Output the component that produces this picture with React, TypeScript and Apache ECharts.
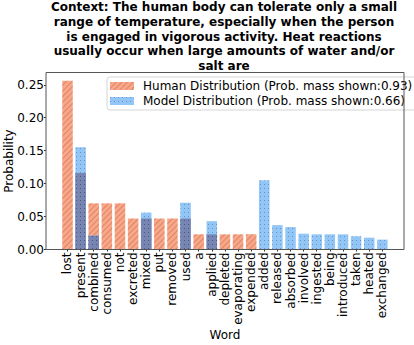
import React, { useEffect, useRef } from "react";
import * as echarts from "echarts";

const titleLines = [
  "Context: The human body can tolerate only a small",
  "range of temperature, especially when the person",
  "is engaged in vigorous activity. Heat reactions",
  "usually occur when large amounts of water and/or",
  "salt are",
];

const words = [
  "lost", "present", "combined", "consumed", "not", "excreted", "mixed", "put",
  "removed", "used", "a", "applied", "depleted", "evaporating", "expended",
  "added", "released", "absorbed", "involved", "ingested", "being",
  "introduced", "taken", "heated", "exchanged",
];

const humanProb = [
  0.256, 0.116, 0.070, 0.070, 0.070, 0.047, 0.047, 0.047, 0.047, 0.047,
  0.023, 0.023, 0.023, 0.023, 0.023, 0, 0, 0, 0, 0, 0, 0, 0, 0, 0,
];

const modelProb = [
  0, 0.155, 0.021, 0, 0, 0, 0.056, 0, 0, 0.071, 0, 0.043, 0, 0, 0,
  0.105, 0.037, 0.034, 0.024, 0.023, 0.023, 0.023, 0.020, 0.018, 0.015,
];

const yTicks = [0, 0.05, 0.1, 0.15, 0.2, 0.25];

const humanName = "Human Distribution (Prob. mass shown:0.93)";
const modelName = "Model Distribution (Prob. mass shown:0.66)";
const xName = "Word";
const yName = "Probability";

const FONT = "DejaVu Sans";

export default function App() {
  const ref = useRef<HTMLDivElement>(null);
  useEffect(() => {
    if (!ref.current) return;
    const chart = echarts.init(ref.current, null, { renderer: "svg" });
    const overlap = humanProb.map((h, i) => Math.min(h, modelProb[i]));
    const nz = (arr: number[]) => arr.map((v) => (v > 0 ? v : "-"));
    const hatch = {
      symbol: "rect",
      symbolSize: 1,
      dashArrayX: [1, 0],
      dashArrayY: [1, 2.5],
      rotation: -Math.PI / 4,
      color: "rgba(214,92,55,0.5)",
    };
    const dots = (c: string) => ({
      symbol: "rect",
      symbolSize: 1,
      dashArrayX: [1, 3],
      dashArrayY: [1, 3],
      rotation: 0,
      color: c,
    });
    chart.setOption({
      animation: false,
      textStyle: { fontFamily: FONT },
      grid: { left: 60.94, right: 25.1, top: 72.5, bottom: 95.5, containLabel: false },
      legend: {
        orient: "vertical",
        left: 107,
        top: 77,
        padding: [3, 4, 3, 3],
        itemGap: 3,
        itemWidth: 24,
        itemHeight: 8,
        icon: "rect",
        data: [humanName, modelName],
        textStyle: { fontSize: 12, fontFamily: FONT, color: "#000", padding: [0, 0, 0, 4] },
        borderColor: "#d5d5d5",
        borderWidth: 1,
        borderRadius: 3,
        backgroundColor: "rgba(255,255,255,0.85)",
      },
      xAxis: {
        type: "category",
        data: words,
        axisLine: { show: false },
        axisTick: { show: true, alignWithLabel: true, length: 2, lineStyle: { color: "#333" } },
        axisLabel: {
          rotate: 90,
          interval: 0,
          fontSize: 12,
          fontFamily: FONT,
          color: "#000",
          margin: 3,
        },
      },
      yAxis: {
        type: "value",
        min: 0,
        max: 0.2686,
        offset: 15,
        axisLine: { show: false },
        splitLine: { show: false },
        axisTick: { show: true, length: 2, lineStyle: { color: "#333" }, customValues: yTicks },
        axisLabel: {
          fontSize: 12,
          fontFamily: FONT,
          color: "#000",
          margin: 2,
          customValues: yTicks,
          formatter: (v: number) => v.toFixed(2),
        },
      },
      series: [
        {
          name: humanName,
          type: "bar",
          data: nz(humanProb),
          barWidth: "80%",
          barGap: "-100%",
          itemStyle: { color: "#f6a88b", decal: hatch },
        },
        {
          name: modelName,
          type: "bar",
          data: nz(modelProb),
          barWidth: "80%",
          barGap: "-100%",
          itemStyle: { color: "#92c6f6", decal: dots("rgba(70,90,140,0.5)") },
        },
        {
          name: "overlap",
          type: "bar",
          data: nz(overlap),
          barWidth: "80%",
          barGap: "-100%",
          itemStyle: { color: "#7785b3", decal: dots("rgba(40,40,80,0.5)") },
        },
      ],
      graphic: [
        {
          type: "rect",
          z: 100,
          silent: true,
          shape: { x: 46, y: 72.5, width: 358, height: 177 },
          style: { fill: "none", stroke: "#555", lineWidth: 1 },
        },
        {
          type: "text",
          z: 110,
          x: 224,
          y: 0,
          style: {
            text: titleLines.join("\n"),
            font: `bold 12px "${FONT}"`,
            textAlign: "center",
            textVerticalAlign: "top",
            align: "center",
            verticalAlign: "top",
            lineHeight: 14.6,
            fill: "#000",
          },
        },
        {
          type: "text",
          x: 8.5,
          y: 161,
          rotation: Math.PI / 2,
          style: {
            text: yName,
            font: `12px "${FONT}"`,
            textAlign: "center",
            textVerticalAlign: "middle",
            align: "center",
            verticalAlign: "middle",
            fill: "#000",
          },
        },
        {
          type: "text",
          x: 225,
          y: 335,
          style: {
            text: xName,
            font: `12px "${FONT}"`,
            textAlign: "center",
            textVerticalAlign: "middle",
            align: "center",
            verticalAlign: "middle",
            fill: "#000",
          },
        },
      ],
    });
    return () => chart.dispose();
  }, []);
  return (
    <div
      ref={ref}
      style={{ position: "absolute", left: 0, top: 0, width: 414, height: 345 }}
    />
  );
}
